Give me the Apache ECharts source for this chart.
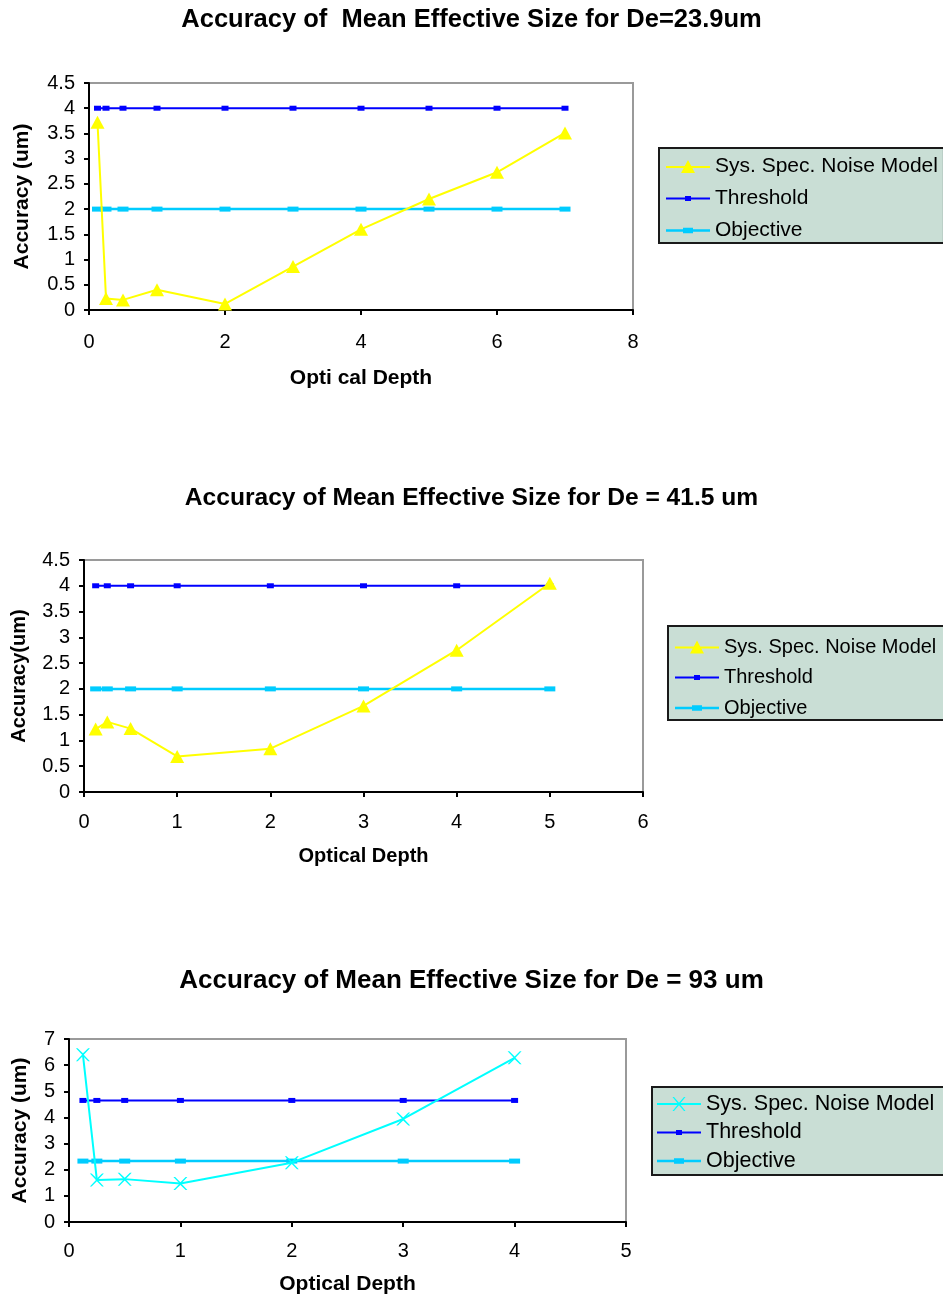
<!DOCTYPE html>
<html><head><meta charset="utf-8">
<script src="https://cdn.jsdelivr.net/npm/echarts@6/dist/echarts.min.js"></script>
<style>
html,body{margin:0;padding:0;background:#fff;width:943px;height:1296px;overflow:hidden}
.c{position:absolute;left:0;width:943px}
</style></head>
<body>
<div id="c1" class="c" style="top:0;height:430px"></div>
<div id="c2" class="c" style="top:430px;height:450px"></div>
<div id="c3" class="c" style="top:880px;height:416px"></div>
<script>
// ---- data ----
const seriesNames = ['Sys. Spec. Noise Model', 'Threshold', 'Objective'];
const titles = [
  'Accuracy of  Mean Effective Size for De=23.9um',
  'Accuracy of Mean Effective Size for De = 41.5 um',
  'Accuracy of Mean Effective Size for De = 93 um'
];
const xNames = ['Opti cal Depth', 'Optical Depth', 'Optical Depth'];
const yNames = ['Accuracy (um)', 'Accuracy(um)', 'Accuracy (um)'];

const depth1 = [0.125, 0.25, 0.5, 1, 2, 3, 4, 5, 6, 7];
const noise1 = [3.72, 0.23, 0.2, 0.4, 0.12, 0.86, 1.6, 2.2, 2.73, 3.51];
const threshold1 = [4, 4, 4, 4, 4, 4, 4, 4, 4, 4];
const objective1 = [2, 2, 2, 2, 2, 2, 2, 2, 2, 2];
const xRange1 = [0, 8, 2];
const yRange1 = [0, 4.5, 0.5];

const depth2 = [0.125, 0.25, 0.5, 1, 2, 3, 4, 5];
const noise2 = [1.22, 1.36, 1.23, 0.69, 0.84, 1.67, 2.75, 4.05];
const threshold2 = [4, 4, 4, 4, 4, 4, 4, 4];
const objective2 = [2, 2, 2, 2, 2, 2, 2, 2];
const xRange2 = [0, 6, 1];
const yRange2 = [0, 4.5, 0.5];

const depth3 = [0.125, 0.25, 0.5, 1, 2, 3, 4];
const noise3 = [6.40, 1.61, 1.64, 1.47, 2.27, 3.94, 6.28];
const threshold3 = [4.65, 4.65, 4.65, 4.65, 4.65, 4.65, 4.65];
const objective3 = [2.33, 2.33, 2.33, 2.33, 2.33, 2.33, 2.33];
const xRange3 = [0, 5, 1];
const yRange3 = [0, 7, 1];

// ---- styling / layout ----
const FONT = 'Liberation Sans, Arial, sans-serif';
const TRI_ICON = 'path://M0,6H44V8H0Z M22,0L29,13H15Z';
const THR_ICON = 'path://M0,6H44V8H0Z M19,4.5H25V9.5H19Z';
const OBJ_ICON = 'path://M0,6H44V8.5H0Z M17,4.5H27V10H17Z';
const X_ICON = 'path://M0,6H44V8H0Z M15.5,0L17,0L22,5.8L27,0L28.5,0L22.8,7L28.5,14L27,14L22,8.2L17,14L15.5,14L21.2,7Z';
const X_SYM = 'path://M0,0L1.5,0L6,5.5L10.5,0L12,0L6.75,7L12,14L10.5,14L6,8.5L1.5,14L0,14L5.25,7Z';

function pairs(xs, ys) { return xs.map((x, i) => [x, ys[i]]); }

function build(el, cfg) {
  const chart = echarts.init(document.getElementById(el), null, {renderer: 'canvas'});
  const axisCommon = {
    type: 'value',
    nameLocation: 'middle',
    nameMoveOverlap: false,
    nameTextStyle: {fontFamily: FONT, fontWeight: 'bold', fontSize: cfg.nameSize, color: '#000'},
    axisLine: {show: true, onZero: false, lineStyle: {color: '#000', width: 2}},
    axisTick: {show: true, length: 5, lineStyle: {color: '#000', width: 2}},
    axisLabel: {fontFamily: FONT, fontSize: cfg.tickSize, color: '#000'},
    splitLine: {show: false}
  };
  const option = {
    animation: false,
    backgroundColor: '#fff',
    title: {
      text: cfg.title, left: 'center', top: cfg.titleTop, padding: 0,
      textStyle: {fontFamily: FONT, fontWeight: 'bold', fontSize: cfg.titleSize, color: '#000'}
    },
    grid: {
      left: cfg.grid[0], top: cfg.grid[1], width: cfg.grid[2], height: cfg.grid[3],
      show: true, borderColor: '#9a9a9a', borderWidth: 2, backgroundColor: 'transparent',
      containLabel: false, outerBoundsMode: 'none'
    },
    xAxis: Object.assign({}, axisCommon, {
      min: cfg.xr[0], max: cfg.xr[1], interval: cfg.xr[2],
      name: cfg.xName, nameGap: cfg.xGap,
      axisLabel: Object.assign({}, axisCommon.axisLabel, {margin: cfg.xLabMargin})
    }),
    yAxis: Object.assign({}, axisCommon, {
      min: cfg.yr[0], max: cfg.yr[1], interval: cfg.yr[2],
      name: cfg.yName, nameGap: cfg.yGap,
      axisLabel: Object.assign({}, axisCommon.axisLabel, {margin: 14})
    }),
    legend: {
      orient: 'vertical', left: cfg.legend[0], top: cfg.legend[1],
      padding: cfg.legendPad, itemGap: cfg.legendGap,
      itemWidth: 44, itemHeight: 14, selectedMode: false,
      backgroundColor: '#c9ded5', borderColor: '#1a1a1a', borderWidth: 2,
      itemStyle: {borderWidth: 0},
      textStyle: {fontFamily: FONT, fontSize: cfg.legendSize, lineHeight: cfg.legendSize, color: '#000'},
      data: [
        {name: seriesNames[0], icon: cfg.noiseIcon},
        {name: seriesNames[1], icon: THR_ICON},
        {name: seriesNames[2], icon: OBJ_ICON}
      ]
    },
    series: [
      {
        name: seriesNames[1], type: 'line', data: pairs(cfg.x, cfg.thr),
        symbol: 'rect', symbolSize: [7, 5], showAllSymbol: true,
        lineStyle: {color: '#0000ff', width: 2},
        itemStyle: {color: '#0000ff', borderWidth: 0}, z: 2
      },
      {
        name: seriesNames[2], type: 'line', data: pairs(cfg.x, cfg.obj),
        symbol: 'rect', symbolSize: [11, 5], showAllSymbol: true,
        lineStyle: {color: '#00ccff', width: 2.5},
        itemStyle: {color: '#00ccff', borderWidth: 0}, z: 2
      },
      {
        name: seriesNames[0], type: 'line', data: pairs(cfg.x, cfg.noise),
        symbol: cfg.noiseSymbol, symbolSize: cfg.noiseSymSize, symbolKeepAspect: false, showAllSymbol: true,
        lineStyle: {color: cfg.noiseColor, width: 2},
        itemStyle: {color: cfg.noiseColor, borderWidth: 0}, z: 3
      }
    ]
  };
  chart.setOption(option);
}

build('c1', {
  title: titles[0], titleTop: 7, titleSize: 25.5,
  grid: [89, 83, 544, 227], xr: xRange1, yr: yRange1,
  xName: xNames[0], yName: yNames[0], xGap: 58, yGap: 56, nameSize: 21, tickSize: 20, xLabMargin: 22,
  legend: [659, 148], legendPad: [8, 6, 2, 7], legendGap: 11, legendSize: 21,
  x: depth1, noise: noise1, thr: threshold1, obj: objective1,
  noiseColor: '#ffff00', noiseSymbol: 'triangle', noiseSymSize: [14, 13], noiseIcon: TRI_ICON
});
build('c2', {
  title: titles[1], titleTop: 56, titleSize: 24.6,
  grid: [84, 130, 559, 232], xr: xRange2, yr: yRange2,
  xName: xNames[1], yName: yNames[1], xGap: 54, yGap: 55, nameSize: 20, tickSize: 20, xLabMargin: 20,
  legend: [668, 196], legendPad: [11, 8, 2, 7], legendGap: 10.5, legendSize: 20,
  x: depth2, noise: noise2, thr: threshold2, obj: objective2,
  noiseColor: '#ffff00', noiseSymbol: 'triangle', noiseSymSize: [14, 13], noiseIcon: TRI_ICON
});
build('c3', {
  title: titles[2], titleTop: 88, titleSize: 26,
  grid: [69, 159, 557, 183], xr: xRange3, yr: yRange3,
  xName: xNames[2], yName: yNames[2], xGap: 52, yGap: 38, nameSize: 21, tickSize: 20, xLabMargin: 19,
  legend: [652, 207], legendPad: [6, 10, 3, 5], legendGap: 6.5, legendSize: 21.5,
  x: depth3, noise: noise3, thr: threshold3, obj: objective3,
  noiseColor: '#00ffff', noiseSymbol: X_SYM, noiseSymSize: [14, 13], noiseIcon: X_ICON
});
</script>
</body></html>
